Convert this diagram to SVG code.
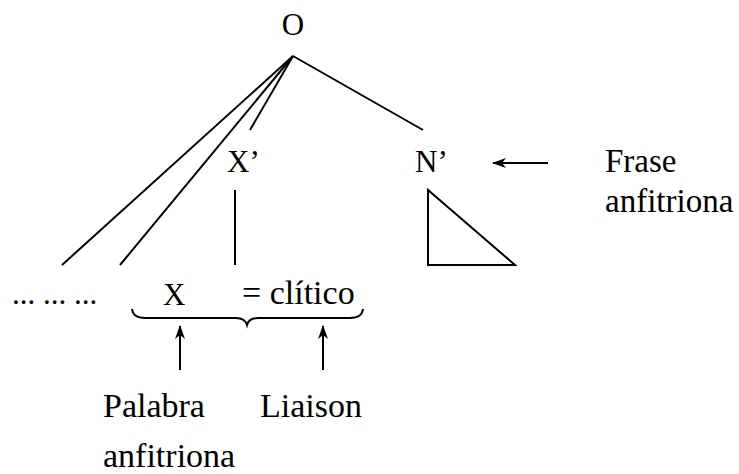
<svg xmlns="http://www.w3.org/2000/svg" width="739" height="474" viewBox="0 0 739 474">
<defs>
<style>
text{fill:#000;}
.lab{font-size:31px;}
.txt{font-size:33px;}
.big{font-size:34px;}
.ln{stroke:#000;stroke-width:2;fill:none;}
</style>
<marker id="ah" markerWidth="14" markerHeight="10" refX="13" refY="5" orient="auto" markerUnits="userSpaceOnUse">
<path d="M0,0 L14,5 L0,10 L4,5 Z" fill="#000"/>
</marker>
</defs>
<rect width="739" height="474" fill="#fff"/>
<g id="connectors">
<line class="ln" x1="293" y1="56" x2="62" y2="265"/>
<line class="ln" x1="293" y1="56" x2="120" y2="265"/>
<line class="ln" x1="293" y1="56" x2="250" y2="130"/>
<line class="ln" x1="293" y1="56" x2="423" y2="130"/>
<line class="ln" x1="235" y1="190" x2="235" y2="265"/>
<line class="ln" x1="548" y1="163" x2="493" y2="163" marker-end="url(#ah)"/>
<line class="ln" x1="180" y1="370" x2="180" y2="326" marker-end="url(#ah)"/>
<line class="ln" x1="323" y1="370" x2="323" y2="326" marker-end="url(#ah)"/>
<path class="ln" d="M132,309 Q133,318 145,318 L236,318 Q245,318 247,325 Q249,318 258,318 L350,318 Q362,318 363,309"/>
</g>
<g font-family="'Liberation Serif', 'Times New Roman', Times, 'DejaVu Serif', serif">
<g id="node-O"><text class="lab" x="293" y="35" text-anchor="middle">O</text></g>
<g id="node-Xbar"><text class="lab" x="227" y="172">X’</text></g>
<g id="node-Nbar"><text class="lab" x="415" y="172">N’</text>
<polygon class="ln" points="428,190 428,265 515,265"/></g>
<g id="node-dots"><text class="lab" x="12" y="304">... ... ...</text></g>
<g id="node-X"><text class="lab" x="163" y="305">X</text></g>
<g id="node-clitico"><text class="big" x="242" y="304">= clítico</text></g>
<g id="label-frase"><text class="txt" x="605" y="172">Frase</text><text class="txt" x="605" y="212">anfitriona</text></g>
<g id="label-palabra"><text class="big" x="103" y="417">Palabra</text><text class="big" x="103" y="467">anfitriona</text></g>
<g id="label-liaison"><text class="big" x="260" y="417">Liaison</text></g>
</g>
</svg>
